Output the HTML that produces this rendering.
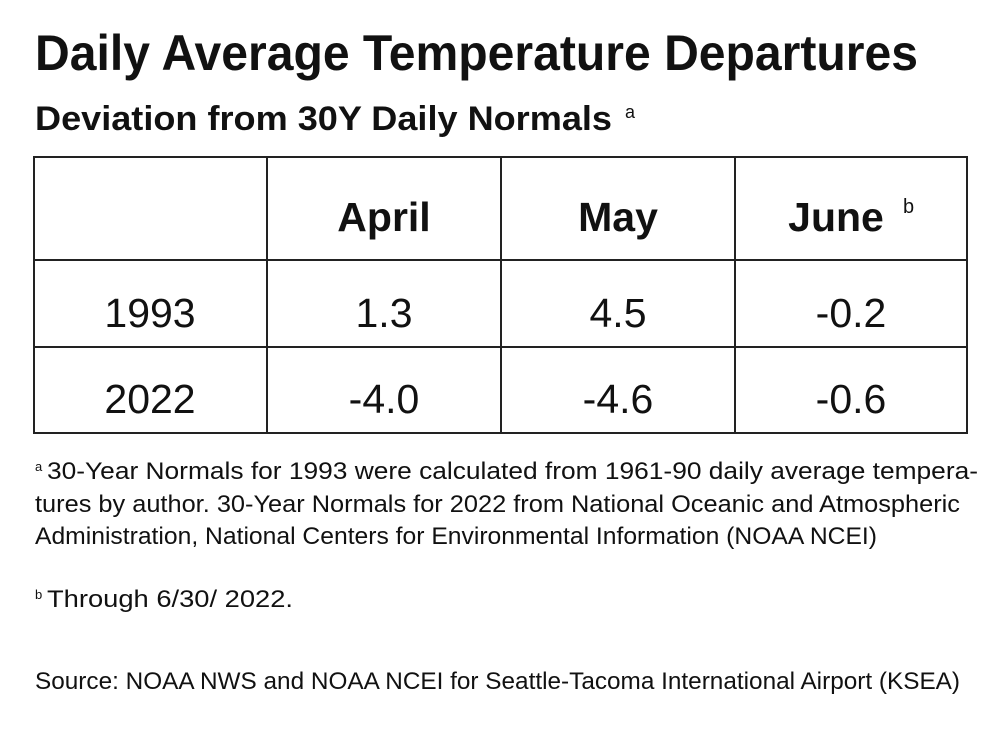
<!DOCTYPE html>
<html><head><meta charset="utf-8"><style>
html,body{margin:0;padding:0;background:#fff;}
svg{display:block;font-family:"Liberation Sans",sans-serif;}
</style></head><body>
<svg width="1000" height="750" viewBox="0 0 1000 750">
<rect width="1000" height="750" fill="#fff"/>
<text x="35" y="70" font-size="50" font-weight="bold" textLength="883" lengthAdjust="spacingAndGlyphs" fill="#111">Daily Average Temperature Departures</text>
<text x="35" y="130" font-size="34" font-weight="bold" textLength="577" lengthAdjust="spacingAndGlyphs" fill="#111">Deviation from 30Y Daily Normals</text>
<text x="625" y="118" font-size="18" fill="#111">a</text>
<g stroke="#222" stroke-width="2" fill="none">
<rect x="34" y="157" width="933" height="276"/>
<line x1="267" y1="157" x2="267" y2="433"/>
<line x1="501" y1="157" x2="501" y2="433"/>
<line x1="735" y1="157" x2="735" y2="433"/>
<line x1="34" y1="260" x2="967" y2="260"/>
<line x1="34" y1="347" x2="967" y2="347"/>
</g>
<g font-size="41" text-anchor="middle" fill="#111">
<text x="384" y="231" font-weight="bold">April</text>
<text x="618" y="231" font-weight="bold">May</text>
<text x="836" y="231" font-weight="bold">June</text>
<text x="150" y="327">1993</text>
<text x="384" y="327">1.3</text>
<text x="618" y="327">4.5</text>
<text x="851" y="327">-0.2</text>
<text x="150" y="413">2022</text>
<text x="384" y="413">-4.0</text>
<text x="618" y="413">-4.6</text>
<text x="851" y="413">-0.6</text>
</g>
<text x="903" y="213" font-size="20" fill="#111">b</text>
<g font-size="24" fill="#111">
<text x="35" y="471" font-size="13">a</text>
<text x="47" y="479" textLength="931" lengthAdjust="spacingAndGlyphs">30-Year Normals for 1993 were calculated from 1961-90 daily average tempera-</text>
<text x="35" y="512" textLength="925" lengthAdjust="spacingAndGlyphs">tures by author. 30-Year Normals for 2022 from National Oceanic and Atmospheric</text>
<text x="35" y="544" textLength="842" lengthAdjust="spacingAndGlyphs">Administration, National Centers for Environmental Information (NOAA NCEI)</text>
<text x="35" y="599" font-size="13">b</text>
<text x="47" y="607" textLength="246" lengthAdjust="spacingAndGlyphs">Through 6/30/ 2022.</text>
<text x="35" y="689" textLength="925" lengthAdjust="spacingAndGlyphs">Source: NOAA NWS and NOAA NCEI for Seattle-Tacoma International Airport (KSEA)</text>
</g>
</svg>
</body></html>
